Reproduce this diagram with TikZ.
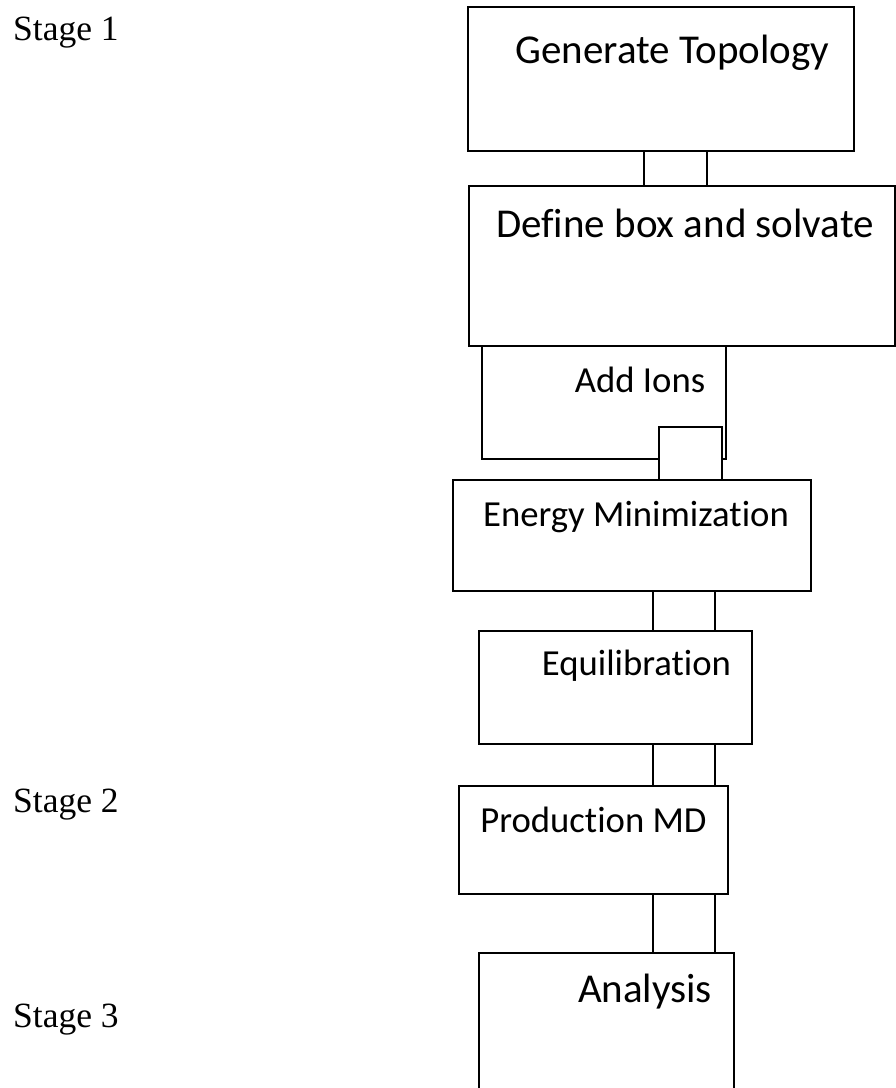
\documentclass[tikz,border=0pt]{standalone}
\usepackage{fontspec}
\setmainfont{Liberation Serif}
\newfontfamily\boxfont[Ligatures=NoCommon]{Carlito}
\usepackage{tikz}
\usetikzlibrary{positioning}

\tikzset{
    stagebox/.style={rectangle, draw, line width=1.2pt, inner sep=0pt, outer sep=0pt},
    link/.style={draw, line width=1.2pt, fill=white},
    bigtxt/.style={font=\boxfont\fontsize{41}{49}\selectfont, inner sep=0pt, anchor=base},
    smalltxt/.style={font=\boxfont\fontsize{36.7}{44}\selectfont, inner sep=0pt, anchor=base},
    stagetxt/.style={font=\fontsize{35.5}{42}\selectfont, inner sep=0pt, anchor=base west}
}

\begin{document}
\begin{tikzpicture}[x=1pt, y=-1pt]
    \useasboundingbox (0,0) rectangle (896,1088);

    % Boxes
    \node [stagebox, minimum width=386pt, minimum height=144pt] (gen) at (661,79) {};
    \node [stagebox, minimum width=426pt, minimum height=160pt] (def) at (682,266) {};
    \node [stagebox, minimum width=244pt, minimum height=113pt] (ions) at (604,402.5) {};
    \node [stagebox, minimum width=358pt, minimum height=111pt] (emin) at (632,535.5) {};
    \node [stagebox, minimum width=273pt, minimum height=113pt] (equil) at (615.5,687.5) {};
    \node [stagebox, minimum width=269pt, minimum height=108pt] (prod) at (593.5,840) {};
    \node [stagebox, minimum width=255pt, minimum height=157pt] (ana) at (606.5,1031.5) {};

    % Links
    \draw [link] ([xshift=-17pt]gen.south) rectangle ([xshift=25pt]def.north);
    \draw [link] ([xshift=27pt]emin.north) rectangle ([xshift=90pt, yshift=53pt]emin.north);
    \draw [link] ([xshift=21pt]emin.south) rectangle ([xshift=99.5pt]equil.north);
    \draw [link] ([xshift=37.5pt]equil.south) rectangle ([xshift=121.5pt]prod.north);
    \draw [link] ([xshift=59.5pt]prod.south) rectangle ([xshift=108.5pt]ana.north);

    % Texts
    \node [bigtxt] (gent) at (672.5,63) {Generate Topology};
    \node [bigtxt] (deft) at (685,237) {Define box and solvate};
    \node [smalltxt] (ionst) at (640,392) {Add Ions};
    \node [smalltxt] (emint) at (636,526) {Energy Minimization};
    \node [smalltxt] (equilt) at (636.5,675) {Equilibration};
    \node [smalltxt] (prodt) at (593.5,832) {Production MD};
    \node [bigtxt] (anat) at (645,1002) {Analysis};

    % Stages
    \node [stagetxt] (st1) at (13,40) {Stage 1};
    \node [stagetxt] (st2) at (13,812) {Stage 2};
    \node [stagetxt] (st3) at (13,1027) {Stage 3};
\end{tikzpicture}
\end{document}
